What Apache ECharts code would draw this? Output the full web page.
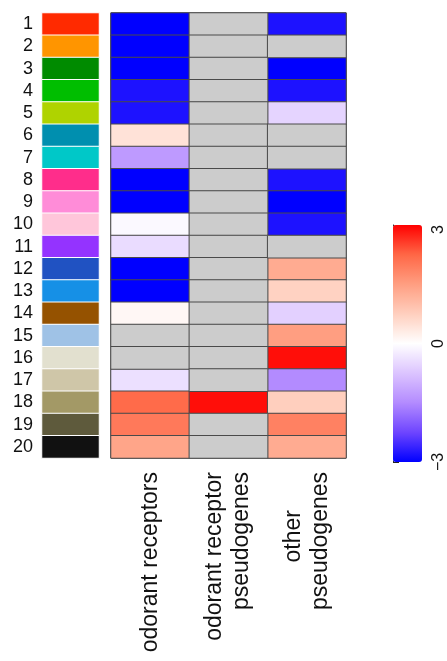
<!DOCTYPE html>
<html>
<head>
<meta charset="utf-8">
<script src="https://cdn.jsdelivr.net/npm/echarts@6/dist/echarts.min.js"></script>
<style>
  html, body { margin: 0; padding: 0; background: #fff; }
  #chart { width: 447px; height: 661px; }
</style>
</head>
<body>
<div id="chart"></div>
<script>
// Row (cluster) labels and their side colours
const rowLabels = ['1','2','3','4','5','6','7','8','9','10','11','12','13','14','15','16','17','18','19','20'];
const rowColors = ['#FF2A00','#FF9500','#008B00','#00BE00','#AFD300','#008FAF','#00C8C8','#FF2D8B','#FF8CD8','#FFC6DA',
                   '#9433FF','#2052C2','#1690E6','#955200','#9FC2E6','#E2E0CF','#CFC6A8','#A39966','#5E5A3C','#111111'];

// Column categories
const colLabels = ['odorant receptors', 'odorant receptor\npseudogenes', 'other\npseudogenes'];

// Enrichment scores per column (null = no value)
const odorantReceptors = [-3, -3, -3, -2.8, -2.8, 0.45, -1.3, -3, -3, -0.08, -0.45, -3, -3, 0.12, null, null, -0.4, 2.2, 2.0, 1.4];
const orPseudogenes    = [null, null, null, null, null, null, null, null, null, null, null, null, null, null, null, null, null, 2.9, null, null];
const otherPseudogenes = [-2.8, null, -3, -2.8, -0.55, null, null, -2.8, -3, -2.8, null, 1.3, 0.7, -0.6, 1.5, 2.9, -1.5, 0.75, 1.9, 1.3];

// Colour scale ticks
const scaleTicks = [-3, 0, 3];

const columns = [odorantReceptors, orPseudogenes, otherPseudogenes];
const valueCells = [];
const missingCells = [];
columns.forEach((col, ci) => {
  col.forEach((v, ri) => {
    if (v === null) missingCells.push([ci, ri, 0]);
    else valueCells.push([ci, ri, v]);
  });
});
const sideCells = rowLabels.map((r, i) => ({ value: [0, i, 0], itemStyle: { color: rowColors[i] } }));

const chart = echarts.init(document.getElementById('chart'), null, { renderer: 'canvas' });
const font = 'Liberation Sans, Arial, Helvetica, sans-serif';

chart.setOption({
  animation: false,
  grid: [
    { left: 111, top: 13, width: 235, height: 445, show: true, borderColor: '#222', borderWidth: 1, backgroundColor: 'transparent' },
    { left: 42, top: 13, width: 57, height: 445 },
    { left: 393, top: 225, width: 29, height: 237 }
  ],
  xAxis: [
    {
      gridIndex: 0, type: 'category', data: colLabels,
      axisLine: { show: false }, axisTick: { show: false }, splitLine: { show: false },
      axisLabel: {
        interval: 0, rotate: 90, margin: 14, color: '#111', fontFamily: font, fontSize: 23, lineHeight: 27,
        formatter: v => v.split('\n').map((s, i, a) => (a.length > 1 && i === 0 && s.length < 8) ? '{short|' + s + '}' : s).join('\n'),
        rich: { short: { fontSize: 23, fontFamily: font, color: '#111', padding: [0, 38, 0, 0] } }
      }
    },
    { gridIndex: 1, type: 'category', data: ['side'], show: false },
    { gridIndex: 2, type: 'value', show: false, min: 0, max: 1 }
  ],
  yAxis: [
    { gridIndex: 0, type: 'category', data: rowLabels, inverse: true, show: false },
    {
      gridIndex: 1, type: 'category', data: rowLabels, inverse: true,
      axisLine: { show: false }, axisTick: { show: false },
      axisLabel: { interval: 0, color: '#111', fontFamily: font, fontSize: 18, margin: 9 }
    },
    {
      gridIndex: 2, type: 'value', min: scaleTicks[0], max: scaleTicks[2], interval: 3, position: 'right',
      axisLine: { show: true, lineStyle: { color: '#222', width: 1 } },
      axisTick: { show: true, length: 6, lineStyle: { color: '#222' } },
      splitLine: { show: false },
      axisLabel: {
        rotate: 90, margin: 10, color: '#111', fontFamily: font, fontSize: 16,
        alignMaxLabel: 'right',
        formatter: v => v < 0 ? '\u2212' + Math.abs(v) : String(v)
      }
    }
  ],
  visualMap: {
    type: 'continuous', seriesIndex: 0, min: -3, max: 3, calculable: false, orient: 'vertical',
    left: 393, top: 225, itemWidth: 29, itemHeight: 237, padding: 0, text: null, hoverLink: false,
    inRange: { color: ['#0000FF', '#6E45FF', '#B38BFF', '#DCC4FF', '#FFFFFF', '#FFCFBE', '#FF9E81', '#FF6746', '#FF0000'] }
  },
  series: [
    {
      type: 'heatmap', xAxisIndex: 0, yAxisIndex: 0, data: valueCells,
      itemStyle: { borderColor: '#4a4a4a', borderWidth: 1 },
      emphasis: { disabled: true }
    },
    {
      type: 'heatmap', xAxisIndex: 0, yAxisIndex: 0, data: missingCells,
      itemStyle: { color: '#CCCCCC', borderColor: '#4a4a4a', borderWidth: 1 },
      emphasis: { disabled: true }
    },
    {
      type: 'heatmap', xAxisIndex: 1, yAxisIndex: 1, data: sideCells,
      itemStyle: { borderColor: '#FFFFFF', borderWidth: 1 },
      emphasis: { disabled: true }
    }
  ]
});
</script>
</body>
</html>
